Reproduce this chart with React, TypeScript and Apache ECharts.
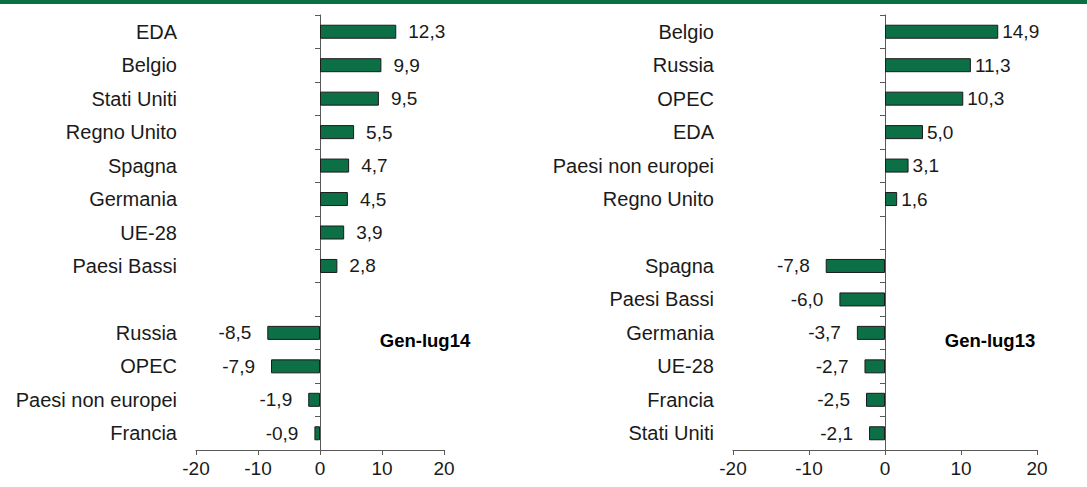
import React, { useEffect, useRef } from "react";
import * as echarts from "echarts";

const leftCategories = ["EDA", "Belgio", "Stati Uniti", "Regno Unito", "Spagna", "Germania", "UE-28", "Paesi Bassi", "", "Russia", "OPEC", "Paesi non europei", "Francia"];
const leftValues: (number | null)[] = [12.3, 9.9, 9.5, 5.5, 4.7, 4.5, 3.9, 2.8, null, -8.5, -7.9, -1.9, -0.9];
const leftTitle = "Gen-lug14";

const rightCategories = ["Belgio", "Russia", "OPEC", "EDA", "Paesi non europei", "Regno Unito", "", "Spagna", "Paesi Bassi", "Germania", "UE-28", "Francia", "Stati Uniti"];
const rightValues: (number | null)[] = [14.9, 11.3, 10.3, 5.0, 3.1, 1.6, null, -7.8, -6.0, -3.7, -2.7, -2.5, -2.1];
const rightTitle = "Gen-lug13";

const xTicks = { min: -20, max: 20, interval: 10 };

const FONT = "'Liberation Sans', Arial, sans-serif";
const GREEN = "#0c6f45";

function fmt(v: number) {
  return v.toFixed(1).replace(".", ",");
}

export default function App() {
  const ref = useRef<HTMLDivElement>(null);
  useEffect(() => {
    document.body.style.margin = "0";
    if (!ref.current) return;
    const chart = echarts.init(ref.current, undefined, { renderer: "svg" });

    const grids = [
      { left: 196, top: 15, width: 248, height: 435 },
      { left: 733, top: 15, width: 304, height: 435 },
    ];
    const cats = [leftCategories, rightCategories];
    const vals = [leftValues, rightValues];
    const posDist = [12, 4];
    const negDist = [16, 16];

    const xAxis: any[] = [];
    const yAxis: any[] = [];
    const series: any[] = [];
    for (let i = 0; i < 2; i++) {
      xAxis.push({
        type: "value",
        gridIndex: i,
        min: xTicks.min,
        max: xTicks.max,
        interval: xTicks.interval,
        splitLine: { show: false },
        axisLine: { show: true, onZero: false, lineStyle: { color: "#595959", width: 1 } },
        axisTick: { show: true, length: 5, lineStyle: { color: "#595959" } },
        axisLabel: { color: "#1a1a1a", fontSize: 19, fontFamily: FONT, margin: 9 },
      });
      // label axis at grid left
      yAxis.push({
        type: "category",
        gridIndex: i,
        data: cats[i],
        inverse: true,
        axisLine: { show: false, onZero: false },
        axisTick: { show: false },
        axisLabel: { color: "#1a1a1a", fontSize: 20, fontFamily: FONT, margin: 19 },
        splitLine: { show: false },
      });
      // zero axis line with ticks
      yAxis.push({
        type: "category",
        gridIndex: i,
        data: cats[i],
        inverse: true,
        position: "left",
        axisLine: { show: true, onZero: true, lineStyle: { color: "#595959", width: 1 } },
        axisTick: { show: true, length: 5, inside: false, lineStyle: { color: "#595959" } },
        axisLabel: { show: false },
        splitLine: { show: false },
      });
      series.push({
        type: "bar",
        xAxisIndex: i,
        yAxisIndex: i * 2,
        barWidth: 14,
        itemStyle: { color: GREEN, borderColor: "#1b1b1b", borderWidth: 1 },
        data: vals[i].map((v) =>
          v == null
            ? "-"
            : {
                value: v,
                label: {
                  show: true,
                  position: v >= 0 ? "right" : "left",
                  distance: v >= 0 ? posDist[i] : negDist[i],
                  formatter: () => fmt(v),
                  color: "#1a1a1a",
                  fontSize: 19,
                  fontFamily: FONT,
                },
              }
        ),
      });
    }

    chart.setOption({
      animation: false,
      backgroundColor: "#ffffff",
      grid: grids,
      xAxis,
      yAxis,
      series,
      graphic: [
        { type: "rect", left: 0, top: 0, shape: { width: 1087, height: 4 }, style: { fill: "#0b6f44" } },
        {
          type: "text",
          x: 425,
          y: 340,
          style: { text: leftTitle, fontSize: 18.5, fontWeight: "bold", fontFamily: FONT, fill: "#000", align: "center", verticalAlign: "middle" },
        },
        {
          type: "text",
          x: 990,
          y: 340,
          style: { text: rightTitle, fontSize: 18.5, fontWeight: "bold", fontFamily: FONT, fill: "#000", align: "center", verticalAlign: "middle" },
        },
      ],
    });
    return () => chart.dispose();
  }, []);
  return <div ref={ref} style={{ width: 1087, height: 487 }} />;
}
